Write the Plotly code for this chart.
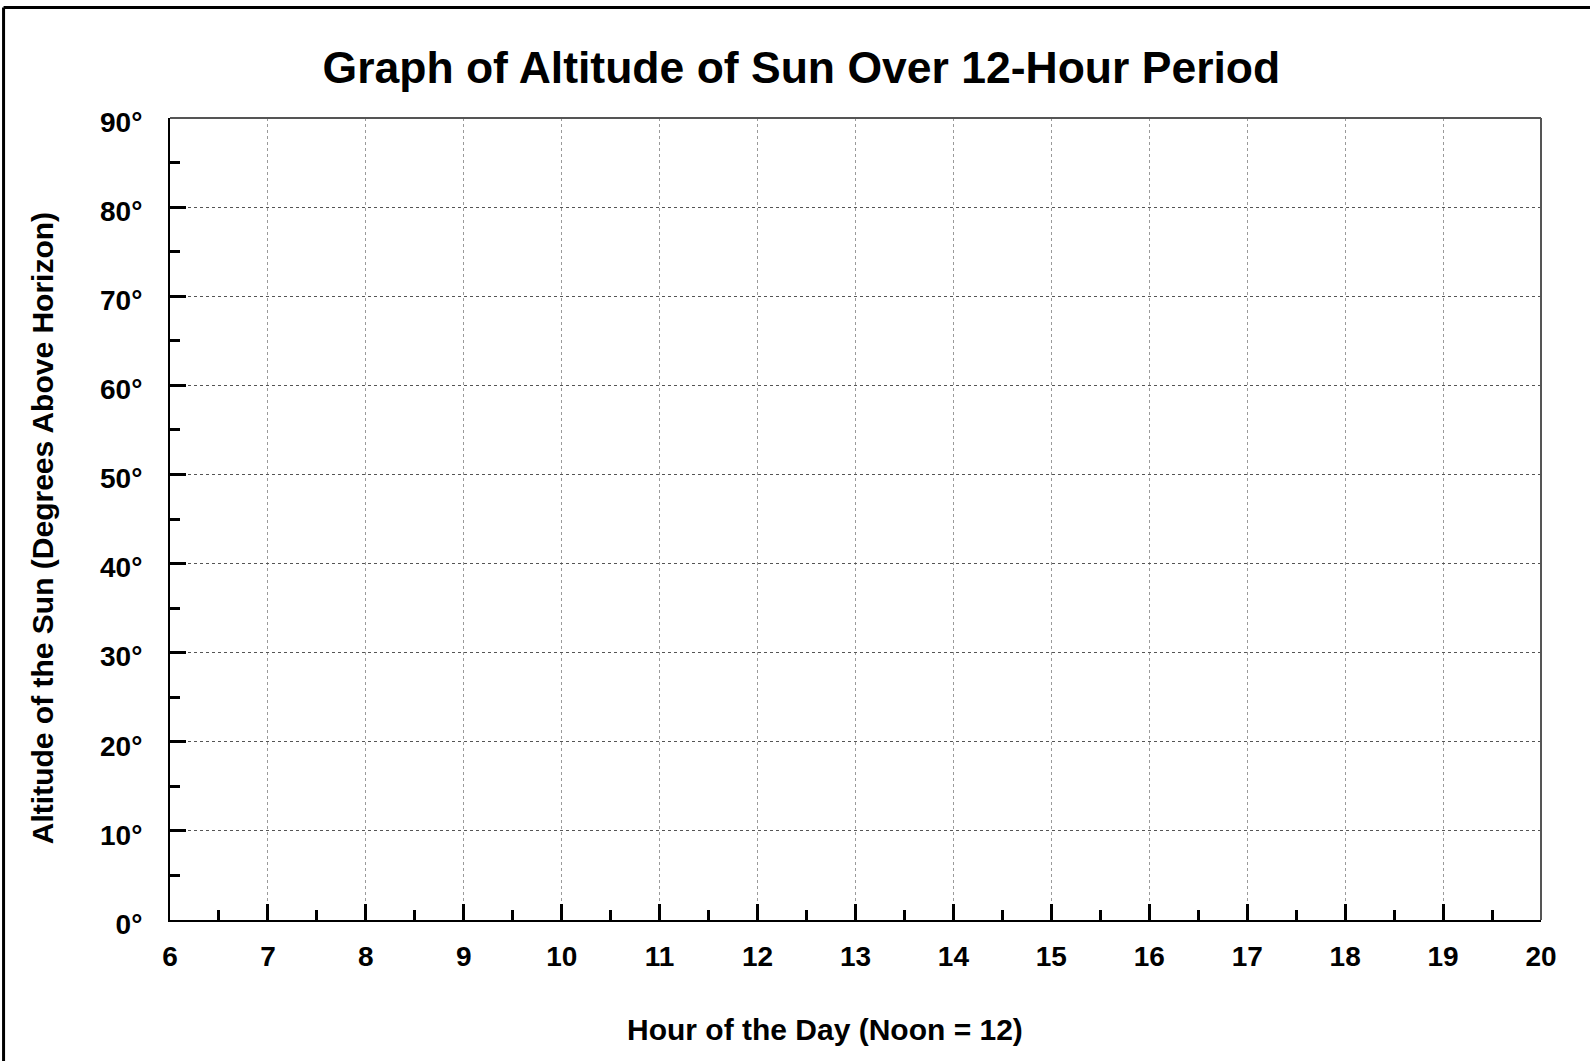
import plotly.graph_objects as go

# hours on the x axis, altitude (degrees) on the y axis
hours = [6, 7, 8, 9, 10, 11, 12, 13, 14, 15, 16, 17, 18, 19, 20]
hour_labels = [str(h) for h in hours]
altitudes = [0, 10, 20, 30, 40, 50, 60, 70, 80, 90]
altitude_labels = [f"{a}°" for a in altitudes]

title = "Graph of Altitude of Sun Over 12-Hour Period"
xtitle = "Hour of the Day (Noon = 12)"
ytitle = "Altitude of the Sun (Degrees Above Horizon)"

FONT = "Liberation Sans, Arial, sans-serif"

fig = go.Figure()
# empty worksheet - no data plotted, just the axes
fig.add_trace(go.Scatter(x=[], y=[], mode="lines", showlegend=False))

fig.update_layout(
    width=1590, height=1061,
    margin=dict(l=170, r=49, t=118, b=141),
    paper_bgcolor="white", plot_bgcolor="white",
    font=dict(family=FONT, color="black"),
    title=dict(text=title, x=0.504, xref="container", xanchor="center",
               y=0.936, yref="container", yanchor="middle",
               font=dict(size=44.5, family=FONT, weight="bold", color="black")),
    showlegend=False,
)

fig.update_xaxes(
    range=[hours[0], hours[-1]],
    tickmode="array", tickvals=hours, ticktext=hour_labels,
    tickfont=dict(size=28, family=FONT, weight="bold"),
    ticks="inside", ticklen=16, tickwidth=3, tickcolor="black",
    ticklabelstandoff=10,
    showline=True, linecolor="black", linewidth=2,
    showgrid=True, gridcolor="#9a9a9a", gridwidth=1, griddash="dot",
    zeroline=False,
    minor=dict(ticks="inside", ticklen=10, tickwidth=3, tickcolor="black",
               dtick=0.5, showgrid=False),
)
fig.update_yaxes(
    range=[altitudes[0], altitudes[-1]],
    tickmode="array", tickvals=altitudes, ticktext=altitude_labels,
    tickfont=dict(size=28, family=FONT, weight="bold"),
    ticks="inside", ticklen=16, tickwidth=3, tickcolor="black",
    ticklabelstandoff=20, ticklabelshift=4,
    showline=True, linecolor="black", linewidth=2,
    showgrid=True, gridcolor="#555555", gridwidth=1, griddash="dot",
    zeroline=False,
    minor=dict(ticks="inside", ticklen=10, tickwidth=3, tickcolor="black",
               dtick=5, showgrid=False),
)

# top/right border of plot area is grey, not black
fig.add_shape(type="line", xref="paper", yref="paper", x0=0, x1=1, y0=1, y1=1,
              line=dict(color="#555555", width=2))
fig.add_shape(type="line", xref="paper", yref="paper", x0=1, x1=1, y0=0, y1=1,
              line=dict(color="#555555", width=2))

# outer frame (only left and top edge are visible in the page)
fig.add_shape(type="line", xref="paper", yref="paper",
              x0=-0.1214, x1=1.05, y0=1.1378, y1=1.1378,
              line=dict(color="black", width=3))
fig.add_shape(type="line", xref="paper", yref="paper",
              x0=-0.1214, x1=-0.1214, y0=-0.2, y1=1.1378,
              line=dict(color="black", width=3))

fig.add_annotation(text=xtitle, xref="paper", yref="paper", x=0.4778, y=-0.136,
                   xanchor="center", yanchor="middle", showarrow=False,
                   font=dict(size=30, family=FONT, weight="bold", color="black"))
fig.add_annotation(text=ytitle, xref="paper", yref="paper", x=-0.0925, y=0.4888,
                   xanchor="center", yanchor="middle", showarrow=False, textangle=-90,
                   font=dict(size=30, family=FONT, weight="bold", color="black"))

# drop the default 8px page margin so the figure sits at the window corner
fig.write_html("out.html", config={"displayModeBar": False},
               post_script="document.body.style.margin='0px';")
